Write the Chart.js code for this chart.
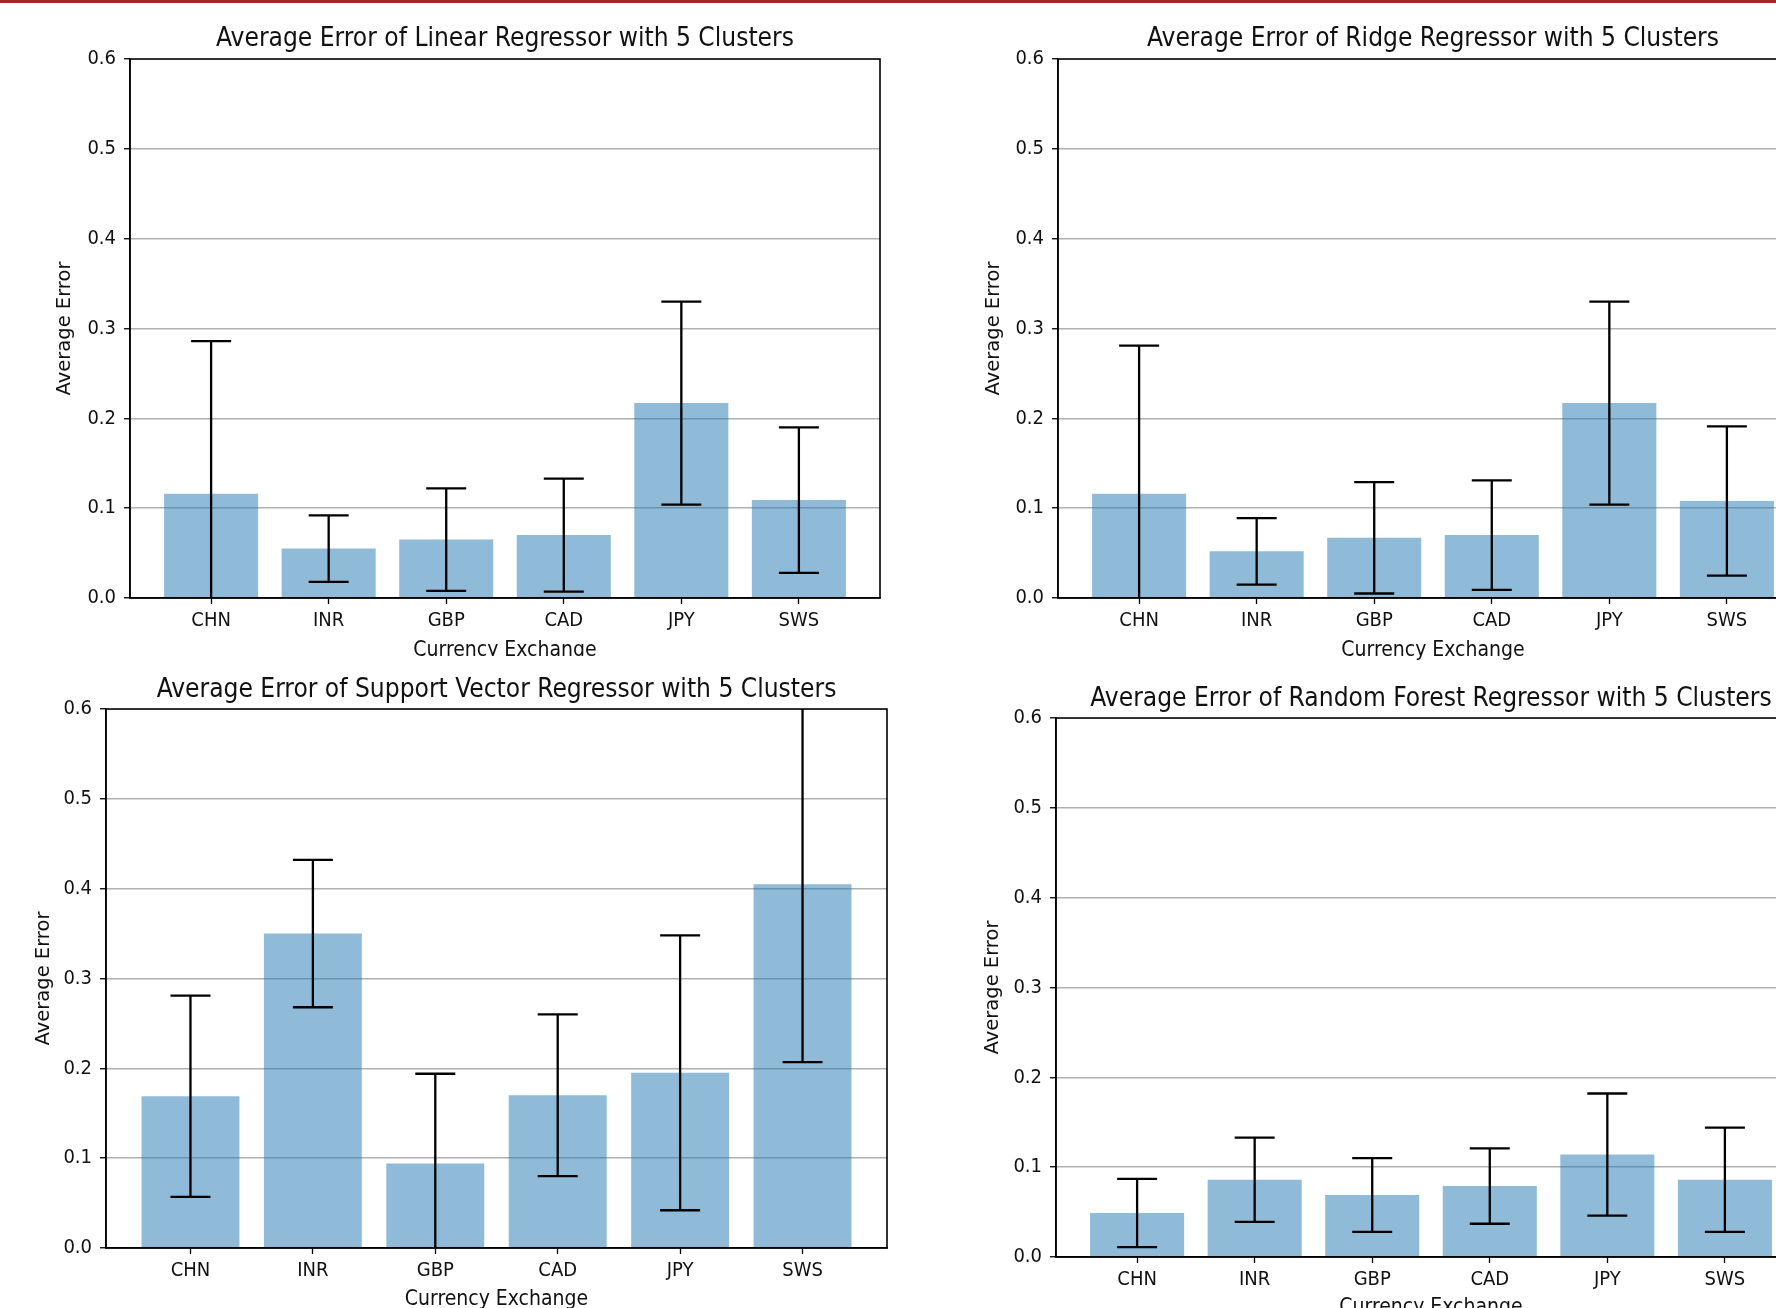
<!DOCTYPE html>
<html lang="en">
<head>
    <meta charset="UTF-8">
    <title>Average Error by Regressor</title>
    <script src="https://cdn.jsdelivr.net/npm/chart.js"></script>
    <style>
        body {
            margin: 0;
            padding: 0;
            background: #fff;
            width: 1776px;
            height: 1308px;
            overflow: hidden;
            position: relative;
        }
        .topline {
            position: absolute;
            left: 0;
            top: 0;
            width: 1776px;
            height: 3px;
            background: #a62626;
            z-index: 5;
        }
        .panel {
            position: absolute;
            overflow: hidden;
        }
        .panel canvas {
            position: absolute;
            left: 0;
            top: 0;
        }
    </style>
</head>
<body>
    <div class="topline"></div>
    <div class="panel" style="left:0;top:0;width:900px;height:656px"><canvas id="linearChart" width="1010" height="670"></canvas></div>
    <div class="panel" style="left:900px;top:0;width:876px;height:660px"><canvas id="ridgeChart" width="1066" height="670"></canvas></div>
    <div class="panel" style="left:0;top:656px;width:900px;height:652px"><canvas id="svrChart" width="993" height="670"></canvas></div>
    <div class="panel" style="left:900px;top:660px;width:876px;height:648px"><canvas id="rfChart" width="1062" height="670"></canvas></div>

    <script>
        // data (mean error and symmetric error bar half-length)
        const categories = ["CHN", "INR", "GBP", "CAD", "JPY", "SWS"];
        const yTicks = [0.0, 0.1, 0.2, 0.3, 0.4, 0.5, 0.6];

        const linearMean = [0.116, 0.055, 0.065, 0.070, 0.217, 0.109];
        const linearErr  = [0.170, 0.037, 0.057, 0.063, 0.113, 0.081];

        const ridgeMean = [0.116, 0.052, 0.067, 0.070, 0.217, 0.108];
        const ridgeErr  = [0.165, 0.037, 0.062, 0.061, 0.113, 0.083];

        const svrMean = [0.169, 0.350, 0.094, 0.170, 0.195, 0.405];
        const svrErr  = [0.112, 0.082, 0.100, 0.090, 0.153, 0.198];

        const rfMean = [0.049, 0.086, 0.069, 0.079, 0.114, 0.086];
        const rfErr  = [0.038, 0.047, 0.041, 0.042, 0.068, 0.058];

        const condensed = "'DejaVu Sans Condensed', 'Liberation Sans Narrow', 'DejaVu Sans', sans-serif";
        const regular = "'DejaVu Sans', sans-serif";

        Chart.defaults.font.family = condensed;
        Chart.defaults.color = "#111";

        // error bars + full axes box, drawn after the grid layer
        const errorBarPlugin = {
            id: "errorBars",
            afterDraw(chart, args, opts) {
                const ctx = chart.ctx;
                const area = chart.chartArea;
                const xs = chart.scales.x;
                const ys = chart.scales.y;
                const mean = opts.mean;
                const err = opts.err;
                ctx.save();
                ctx.beginPath();
                ctx.rect(area.left, area.top, area.right - area.left, area.bottom - area.top);
                ctx.clip();
                ctx.strokeStyle = "#000";
                ctx.lineWidth = 2.3;
                for (let i = 0; i < mean.length; i++) {
                    const x = xs.getPixelForValue(i);
                    const yHi = ys.getPixelForValue(mean[i] + err[i]);
                    const yLo = ys.getPixelForValue(mean[i] - err[i]);
                    ctx.beginPath();
                    ctx.moveTo(x, yHi);
                    ctx.lineTo(x, yLo);
                    ctx.moveTo(x - 20, yHi);
                    ctx.lineTo(x + 20, yHi);
                    ctx.moveTo(x - 20, yLo);
                    ctx.lineTo(x + 20, yLo);
                    ctx.stroke();
                }
                ctx.restore();

                ctx.save();
                ctx.strokeStyle = "#000";
                ctx.lineWidth = 1.6;
                ctx.strokeRect(area.left, area.top, area.right - area.left, area.bottom - area.top);
                ctx.restore();
            }
        };

        function makeChart(id, title, mean, err, g) {
            new Chart(document.getElementById(id), {
                type: "bar",
                data: {
                    datasets: [{
                        data: mean.map((v, i) => ({ x: i, y: v })),
                        backgroundColor: "rgba(31, 119, 180, 0.5)",
                        borderWidth: 0,
                        categoryPercentage: 1.0,
                        barPercentage: 0.8
                    }]
                },
                options: {
                    responsive: false,
                    animation: false,
                    layout: { padding: 0 },
                    plugins: {
                        legend: { display: false },
                        tooltip: { enabled: false },
                        title: {
                            display: true,
                            text: title,
                            color: "#111",
                            font: { size: 26.1, weight: "normal", lineHeight: 1.2 },
                            padding: { top: g.titleTop, bottom: g.titleBottom }
                        },
                        errorBars: { mean: mean, err: err }
                    },
                    scales: {
                        x: {
                            type: "linear",
                            offset: false,
                            min: -0.69,
                            max: 5.69,
                            afterBuildTicks: (s) => { s.ticks = categories.map((c, i) => ({ value: i })); },
                            afterFit: (s) => { s.height = g.xHeight; },
                            ticks: {
                                callback: (v) => categories[v],
                                font: { size: 20 },
                                color: "#111",
                                padding: 5,
                                maxRotation: 0,
                                autoSkip: false
                            },
                            grid: { offset: false, drawOnChartArea: false, drawTicks: true, tickLength: 6, tickColor: "#000", tickWidth: 1.3 },
                            border: { display: true, color: "#000", width: 1.6 },
                            title: {
                                display: true,
                                text: "Currency Exchange",
                                color: "#111",
                                font: { size: 21, lineHeight: 1.2 },
                                padding: { top: 0, bottom: g.xTitleBottom }
                            }
                        },
                        y: {
                            z: 1,
                            min: 0,
                            max: 0.6,
                            afterBuildTicks: (s) => { s.ticks = yTicks.map((v) => ({ value: v })); },
                            afterFit: (s) => { s.width = g.yWidth; },
                            ticks: {
                                callback: (v) => v.toFixed(1),
                                font: { size: 20 },
                                color: "#111",
                                padding: 8
                            },
                            grid: {
                                color: (c) => (c.tick && (c.tick.value === 0 || c.tick.value === 0.6)) ? "rgba(0,0,0,0)" : "#b0b0b0",
                                lineWidth: 1.5,
                                drawTicks: true,
                                tickLength: 6,
                                tickColor: "#000",
                                tickWidth: 1.3
                            },
                            border: { display: true, color: "#000", width: 1.6 },
                            title: {
                                display: true,
                                text: "Average Error",
                                color: "#111",
                                font: { size: 19.5, family: regular, lineHeight: 1.2 },
                                padding: { top: g.yTitleLeft, bottom: 0 }
                            }
                        },
                        // empty right-hand spacer the same width as the y axis, so the title centres over the plot
                        ySpacer: {
                            position: "right",
                            min: 0,
                            max: 0.6,
                            afterFit: (s) => { s.width = g.yWidth; },
                            ticks: { display: false },
                            grid: { display: false },
                            border: { display: false }
                        }
                    }
                },
                plugins: [errorBarPlugin]
            });
        }

        makeChart("linearChart", "Average Error of Linear Regressor with 5 Clusters", linearMean, linearErr,
            { titleTop: 23.7, titleBottom: 4.0, xHeight: 72, xTitleBottom: 7, yWidth: 130, yTitleLeft: 53.3 });
        makeChart("ridgeChart", "Average Error of Ridge Regressor with 5 Clusters", ridgeMean, ridgeErr,
            { titleTop: 23.7, titleBottom: 4.0, xHeight: 72, xTitleBottom: 7, yWidth: 158, yTitleLeft: 82 });
        makeChart("svrChart", "Average Error of Support Vector Regressor with 5 Clusters", svrMean, svrErr,
            { titleTop: 18.4, titleBottom: 3.3, xHeight: 78, xTitleBottom: 14, yWidth: 106, yTitleLeft: 32.5 });
        makeChart("rfChart", "Average Error of Random Forest Regressor with 5 Clusters", rfMean, rfErr,
            { titleTop: 23.4, titleBottom: 3.3, xHeight: 73, xTitleBottom: 10.3, yWidth: 156, yTitleLeft: 81.5 });
    </script>
</body>
</html>
